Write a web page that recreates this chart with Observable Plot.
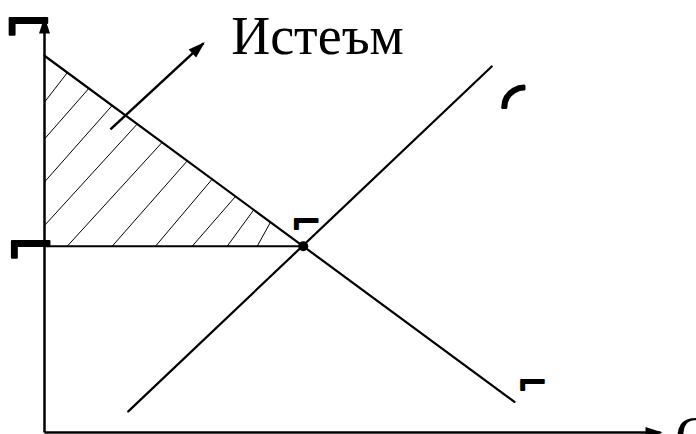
<!DOCTYPE html>
<html><head><meta charset="utf-8">
<script src="https://cdn.jsdelivr.net/npm/d3@7"></script>
<script src="https://cdn.jsdelivr.net/npm/@observablehq/plot@0.6"></script>
<style>html,body{margin:0;padding:0;background:#fff;overflow:hidden}</style>
</head><body><div id="chart"></div>
<script>
// Data (abstract quantity q / price p units)
const axes = [
  {q1: 0, p1: 0, q2: 0, p2: 100},
  {q1: 0, p1: 0, q2: 100, p2: 0}
];
const demand = [{q: 0, p: 91}, {q: 76.3, p: 7.4}];
const supply = [{q: 13.6, p: 5.1}, {q: 72.6, p: 88.4}];
const equilibrium = [{q: 42, p: 45}];
const priceLine = [{q1: 0, p1: 45, q2: 42, p2: 45}];
const hatch = [
  {q1: 0, p1: 79.8, q2: 3.7, p2: 86.9},
  {q1: 0, p1: 70.9, q2: 7.19, p2: 83.1},
  {q1: 0, p1: 60.5, q2: 10.99, p2: 79.0},
  {q1: 0, p1: 50.0, q2: 15.05, p2: 74.5},
  {q1: 3.69, p1: 45, q2: 19.11, p2: 70.1},
  {q1: 10.99, p1: 45, q2: 23.17, p2: 65.6},
  {q1: 18.02, p1: 45, q2: 27.22, p2: 61.2},
  {q1: 23.98, p1: 45, q2: 31.0, p2: 57.0},
  {q1: 29.66, p1: 45, q2: 33.98, p2: 53.8},
  {q1: 34.53, p1: 45, q2: 36.69, p2: 50.8}
];
const surplusArrow = [{q1: 10.7, p1: 73.2, q2: 25.8, p2: 94.0}];
const titleLabel = [{q: 30.3, p: 91.5, text: "Истеъм"}];
const bigGlyphs = [{q: -2.57, p: 98.8, text: "⌐"}, {q: -2.2, p: 44.8, text: "⌐"}];
const smallGlyphs = [{q: 42.45, p: 50.7, text: "⌐"}, {q: 79.2, p: 11.8, text: "⌐"}];
const arcGlyph = [{q: 76.1, p: 79.3, text: "◜"}];
const qLabel = [{q: 102.4, p: -5.56, text: "Q"}];

const chart = Plot.plot({
  width: 696,
  height: 434,
  margin: 0,
  x: {domain: [0, 100], range: [44, 660], axis: null},
  y: {domain: [0, 100], range: [432, 18], axis: null},
  marks: [
    Plot.link(hatch, {x1: "q1", y1: "p1", x2: "q2", y2: "p2", stroke: "black", strokeWidth: 1}),
    Plot.link(priceLine, {x1: "q1", y1: "p1", x2: "q2", y2: "p2", stroke: "black", strokeWidth: 2}),
    Plot.line(demand, {x: "q", y: "p", stroke: "black", strokeWidth: 2.2}),
    Plot.line(supply, {x: "q", y: "p", stroke: "black", strokeWidth: 2.2}),
    Plot.link(axes, {x1: "q1", y1: "p1", x2: "q2", y2: "p2", stroke: "black", strokeWidth: 2.5, markerEnd: "arrow"}),
    Plot.link(surplusArrow, {x1: "q1", y1: "p1", x2: "q2", y2: "p2", stroke: "black", strokeWidth: 2.5, markerEnd: "arrow"}),
    Plot.dot(equilibrium, {x: "q", y: "p", r: 5, fill: "black"}),
    Plot.text(titleLabel, {x: "q", y: "p", text: "text", textAnchor: "start", lineAnchor: "bottom", fontSize: 54, fontFamily: "Liberation Serif", fill: "black"}),
    Plot.text(bigGlyphs, {x: "q", y: "p", text: "text", fontSize: 60, fontFamily: "DejaVu Sans", fill: "black", stroke: "black", strokeWidth: 2}),
    Plot.text(smallGlyphs, {x: "q", y: "p", text: "text", fontSize: 36, fontFamily: "DejaVu Sans", fill: "black", stroke: "black", strokeWidth: 2}),
    Plot.text(arcGlyph, {x: "q", y: "p", text: "text", fontSize: 56, fontFamily: "DejaVu Sans", fill: "black", stroke: "black", strokeWidth: 3}),
    Plot.text(qLabel, {x: "q", y: "p", text: "text", textAnchor: "start", lineAnchor: "bottom", fontSize: 56, fontFamily: "Liberation Serif", fill: "black"})
  ]
});
chart.style.overflow = "visible";
chart.querySelectorAll("marker").forEach(m => {
  m.setAttribute("markerUnits", "userSpaceOnUse");
  m.setAttribute("viewBox", "-16 -8 20 16");
  m.setAttribute("markerWidth", 20);
  m.setAttribute("markerHeight", 16);
  m.setAttribute("fill", "black");
  m.setAttribute("stroke", "none");
  m.setAttribute("overflow", "visible");
  const path = m.querySelector("path");
  if (path) path.setAttribute("d", "M-15,-5.5L2,0L-15,5.5Z");
});
document.getElementById("chart").appendChild(chart);
</script>
</body></html>
